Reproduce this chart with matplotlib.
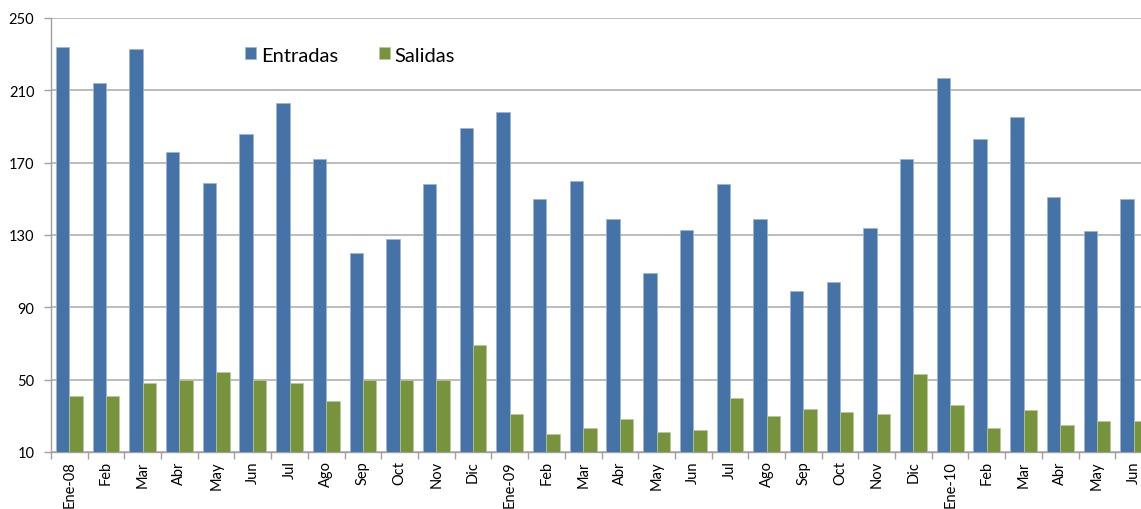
import matplotlib.pyplot as plt
import numpy as np

plt.rcParams['font.family'] = ['Lato', 'DejaVu Sans']

# months Ene-08 .. Jun-10
months = ['Ene-08', 'Feb', 'Mar', 'Abr', 'May', 'Jun', 'Jul', 'Ago', 'Sep', 'Oct', 'Nov', 'Dic',
          'Ene-09', 'Feb', 'Mar', 'Abr', 'May', 'Jun', 'Jul', 'Ago', 'Sep', 'Oct', 'Nov', 'Dic',
          'Ene-10', 'Feb', 'Mar', 'Abr', 'May', 'Jun']
entradas = [234, 214, 233, 176, 159, 186, 203, 172, 120, 128, 158, 189,
            198, 150, 160, 139, 109, 133, 158, 139, 99, 104, 134, 172,
            217, 183, 195, 151, 132, 150]
salidas = [41, 41, 48, 50, 54, 50, 48, 38, 50, 50, 50, 69,
           31, 20, 23, 28, 21, 22, 40, 30, 34, 32, 31, 53,
           36, 23, 33, 25, 27, 27]
yticks = [10, 50, 90, 130, 170, 210, 250]

blue = '#4572A7'
green = '#77933C'

fig = plt.figure(figsize=(11.41, 5.10), dpi=100)
ax = fig.add_axes([51 / 1141, 1 - 453 / 510, 1 - 51 / 1141, (453 - 19) / 510])

x = np.arange(len(months))
w = 0.364
ax.bar(x - w / 2, np.array(entradas) - 10, w, bottom=10, color=blue,
       edgecolor='#9DB3D3', linewidth=0.5, label='Entradas', zorder=3)
ax.bar(x + w / 2, np.array(salidas) - 10, w, bottom=10, color=green,
       edgecolor='#B9C99A', linewidth=0.5, label='Salidas', zorder=3)

ax.set_yticks(yticks)
ax.tick_params(axis='y', length=5, width=1, color='#A0A0A0', labelsize=10.5, pad=7)
ax.grid(axis='y', color='#B0B0B0', linewidth=1.2, zorder=0)

# ticks on category boundaries, labels at centres
ax.set_xticks(np.arange(len(months) + 1) - 0.5)
ax.set_xticklabels([])
ax.set_xticks(x, minor=True)
ax.set_xticklabels(months, minor=True, rotation=90, fontsize=10.5)
ax.tick_params(axis='x', which='major', length=5, width=1, color='#A0A0A0')
ax.tick_params(axis='x', which='minor', length=0, pad=6)

# chart is cut at the right edge, as in the original
ax.set_ylim(10, 250)
ax.set_xlim(-0.5, -0.5 + (1141 - 51) / 36.7)

for s in ['top', 'right']:
    ax.spines[s].set_visible(False)
for s in ['left', 'bottom']:
    ax.spines[s].set_color('#A0A0A0')
    ax.spines[s].set_linewidth(1)

ax.legend(loc='center left', bbox_to_anchor=(245 / 1141, 1 - 56 / 510),
          bbox_transform=fig.transFigure, ncol=2, frameon=False,
          fontsize=14.5, handlelength=0.55, handleheight=0.55, handletextpad=0.25,
          columnspacing=2.0, borderpad=0, borderaxespad=0)

fig.savefig('out.png', dpi=100)
